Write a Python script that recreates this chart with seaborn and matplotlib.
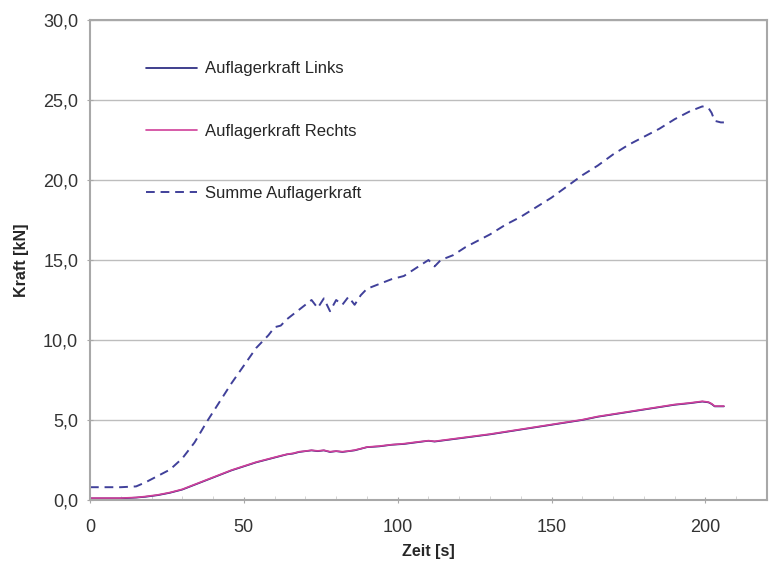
import numpy as np
import matplotlib
matplotlib.use('Agg')
import matplotlib.pyplot as plt
from matplotlib.ticker import FuncFormatter, MultipleLocator
import seaborn as sns
import pandas as pd

# Zeit in s
zeit = [0, 5, 10, 15, 18, 22, 26, 30, 34, 38, 42, 46, 50, 54, 58, 60, 62, 64, 66, 68,
        70, 72, 74, 76, 78, 80, 82, 84, 86, 88, 90, 94, 98, 102, 106, 110, 112, 114,
        118, 122, 126, 130, 135, 140, 145, 150, 155, 160, 165, 170, 175, 180, 185,
        190, 195, 199, 201, 202, 203, 205, 206]

links = [0.10, 0.10, 0.10, 0.15, 0.20, 0.30, 0.45, 0.65, 0.95, 1.25, 1.55, 1.85, 2.10,
         2.35, 2.55, 2.65, 2.75, 2.85, 2.90, 3.00, 3.05, 3.10, 3.05, 3.10, 3.00, 3.05,
         3.00, 3.05, 3.10, 3.20, 3.30, 3.35, 3.45, 3.50, 3.60, 3.70, 3.65, 3.70, 3.80,
         3.90, 4.00, 4.10, 4.25, 4.40, 4.55, 4.70, 4.85, 5.00, 5.20, 5.35, 5.50, 5.65,
         5.80, 5.95, 6.05, 6.15, 6.10, 6.00, 5.85, 5.85, 5.85]

rechts = [0.12, 0.12, 0.12, 0.16, 0.22, 0.32, 0.47, 0.67, 0.97, 1.27, 1.57, 1.87, 2.12,
          2.37, 2.57, 2.67, 2.77, 2.86, 2.92, 3.02, 3.06, 3.11, 3.07, 3.11, 3.02, 3.06,
          3.02, 3.06, 3.12, 3.21, 3.31, 3.37, 3.46, 3.52, 3.62, 3.71, 3.67, 3.72, 3.82,
          3.92, 4.02, 4.12, 4.27, 4.42, 4.57, 4.72, 4.87, 5.02, 5.22, 5.37, 5.52, 5.67,
          5.82, 5.97, 6.07, 6.17, 6.12, 6.02, 5.87, 5.87, 5.87]

summe = [0.8, 0.8, 0.8, 0.85, 1.1, 1.5, 1.9, 2.6, 3.6, 4.9, 6.1, 7.3, 8.4, 9.5, 10.3,
         10.8, 10.9, 11.3, 11.6, 11.9, 12.2, 12.5, 12.0, 12.6, 11.8, 12.5, 12.2, 12.7,
         12.2, 12.8, 13.2, 13.5, 13.8, 14.0, 14.5, 15.0, 14.6, 15.0, 15.3, 15.8, 16.2,
         16.6, 17.2, 17.7, 18.3, 18.9, 19.6, 20.3, 20.9, 21.6, 22.2, 22.7, 23.2, 23.8,
         24.3, 24.6, 24.5, 24.2, 23.7, 23.6, 23.6]

df = pd.DataFrame({'Zeit': zeit, 'Links': links, 'Rechts': rechts, 'Summe': summe})

sns.set_style('white')
plt.rcParams['font.family'] = ['Liberation Sans', 'DejaVu Sans']

fig = plt.figure(figsize=(7.73, 5.70), dpi=100)
ax = fig.add_axes([0.1164, 0.1228, 0.8758, 0.8421])

sns.lineplot(data=df, x='Zeit', y='Links', ax=ax, color='#1f1f7a', lw=1.2,
             label='Auflagerkraft Links')
sns.lineplot(data=df, x='Zeit', y='Rechts', ax=ax, color='#d0409a', lw=1.2,
             label='Auflagerkraft Rechts')
sns.lineplot(data=df, x='Zeit', y='Summe', ax=ax, color='#40409a', lw=1.4,
             linestyle=(0, (4.5, 3)), label='Summe Auflagerkraft')

ax.set_xlim(0, 220)
ax.set_ylim(0, 30)
ax.yaxis.set_major_locator(MultipleLocator(5))
ax.xaxis.set_major_locator(MultipleLocator(50))
ax.xaxis.set_minor_locator(MultipleLocator(10))
ax.yaxis.set_major_formatter(FuncFormatter(lambda v, p: f'{v:.1f}'.replace('.', ',')))
ax.grid(axis='y', color='#bdbdbd', lw=1)
ax.grid(axis='x', visible=False)
for s in ax.spines.values():
    s.set_color('#a8a8a8')
    s.set_linewidth(1.5)
ax.tick_params(axis='both', which='major', labelsize=13, labelcolor='#333333',
               color='#a8a8a8', length=5, direction='inout', left=True, bottom=True)
ax.tick_params(axis='y', which='major', pad=6)
ax.tick_params(axis='x', which='major', pad=11)
ax.tick_params(axis='x', which='minor', length=3, color='#cccccc', direction='in', bottom=True)

ax.set_xlabel('Zeit [s]', fontsize=11.5, fontweight='bold', labelpad=6)
ax.set_ylabel('Kraft [kN]', fontsize=11.5, fontweight='bold', labelpad=10)

ax.legend(loc='upper left', bbox_to_anchor=(0.06, 0.945), frameon=False, fontsize=12,
          labelspacing=2.83, handlelength=3.1, handletextpad=0.48)

fig.savefig('out.png', dpi=100)
